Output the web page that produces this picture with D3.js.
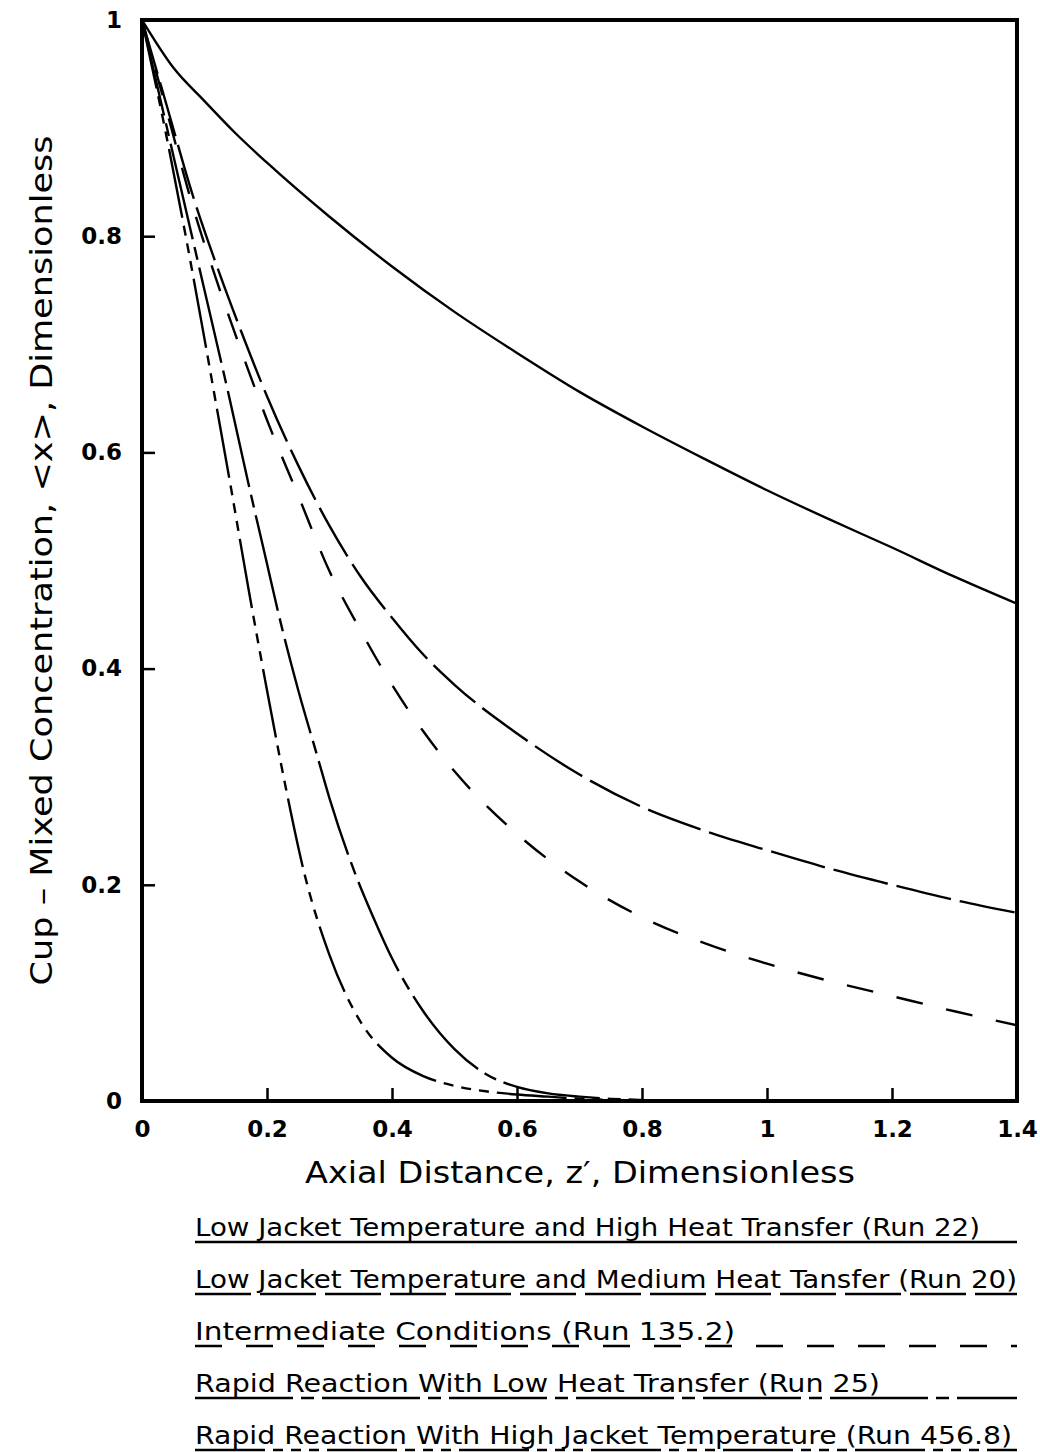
<!DOCTYPE html>
<html>
<head>
<meta charset="utf-8">
<script src="https://cdn.jsdelivr.net/npm/d3@7"></script>
<style>
  html, body { margin: 0; padding: 0; background: #fff; }
  svg { display: block; }
  text { font-family: "DejaVu Sans", "Liberation Sans", sans-serif; fill: #000; }
</style>
</head>
<body>
<svg id="chart" width="1040" height="1452"></svg>
<script>
// Axial distance z' and cup-mixed concentration <x> for each run
const run22Z = [0, 0.05, 0.1, 0.15, 0.2, 0.3, 0.4, 0.5, 0.6, 0.7, 0.8, 0.9, 1.0, 1.1, 1.2, 1.3, 1.4];
const run22X = [1, 0.956, 0.925, 0.895, 0.868, 0.818, 0.772, 0.73, 0.692, 0.656, 0.624, 0.594, 0.565, 0.538, 0.512, 0.485, 0.46];

const run20Z = [0, 0.04, 0.08, 0.12, 0.16, 0.2, 0.25, 0.3, 0.35, 0.4, 0.45, 0.5, 0.6, 0.7, 0.8, 0.9, 1.0, 1.1, 1.2, 1.3, 1.4];
const run20X = [1, 0.92, 0.84, 0.772, 0.71, 0.652, 0.588, 0.532, 0.485, 0.447, 0.413, 0.385, 0.34, 0.302, 0.272, 0.25, 0.232, 0.215, 0.2, 0.186, 0.174];

const run135Z = [0, 0.04, 0.08, 0.12, 0.16, 0.2, 0.25, 0.3, 0.35, 0.4, 0.45, 0.5, 0.6, 0.7, 0.8, 0.9, 1.0, 1.1, 1.2, 1.3, 1.4];
const run135X = [1, 0.915, 0.83, 0.758, 0.692, 0.63, 0.56, 0.49, 0.435, 0.385, 0.342, 0.305, 0.247, 0.203, 0.17, 0.146, 0.127, 0.111, 0.097, 0.083, 0.07];

const run25Z = [0, 0.04, 0.08, 0.1, 0.14, 0.17, 0.2, 0.22, 0.25, 0.28, 0.3, 0.34, 0.37, 0.4, 0.45, 0.5, 0.55, 0.6, 0.65, 0.7, 0.75, 0.8];
const run25X = [1, 0.9, 0.8, 0.75, 0.65, 0.572, 0.497, 0.447, 0.38, 0.32, 0.28, 0.212, 0.17, 0.132, 0.083, 0.048, 0.025, 0.013, 0.007, 0.004, 0.002, 0.001];

const run456Z = [0, 0.04, 0.07, 0.1, 0.12, 0.14, 0.17, 0.2, 0.23, 0.26, 0.3, 0.35, 0.4, 0.45, 0.5, 0.55, 0.6, 0.65, 0.7, 0.75];
const run456X = [1, 0.89, 0.8, 0.705, 0.64, 0.575, 0.475, 0.38, 0.29, 0.21, 0.135, 0.073, 0.04, 0.023, 0.014, 0.009, 0.006, 0.004, 0.002, 0.001];

// Tick values and labels
const xTicks = [0, 0.2, 0.4, 0.6, 0.8, 1.0, 1.2, 1.4];
const xTickLabels = ["0", "0.2", "0.4", "0.6", "0.8", "1", "1.2", "1.4"];
const yTicks = [0, 0.2, 0.4, 0.6, 0.8, 1.0];
const yTickLabels = ["0", "0.2", "0.4", "0.6", "0.8", "1"];

// Legend entries (one per run)
const seriesNames = [
  "Low Jacket Temperature and High Heat Transfer (Run 22)",
  "Low Jacket Temperature and Medium Heat Tansfer (Run 20)",
  "Intermediate Conditions (Run 135.2)",
  "Rapid Reaction With Low Heat Transfer (Run 25)",
  "Rapid Reaction With High Jacket Temperature (Run 456.8)"
];

const xTitle = "Axial Distance, z\u2032, Dimensionless";
const yTitle = "Cup \u2013 Mixed Concentration, <x>, Dimensionless";

// ---- layout ----
const plot = { left: 142, right: 1017, top: 20, bottom: 1101 };
const x = d3.scaleLinear().domain([0, 1.4]).range([plot.left, plot.right]);
const y = d3.scaleLinear().domain([0, 1]).range([plot.bottom, plot.top]);

const series = [
  { z: run22Z, v: run22X, dash: null, textLen: 785, lineEnd: 1017 },
  { z: run20Z, v: run20X, dash: "56,9", textLen: 822, lineEnd: 1017 },
  { z: run135Z, v: run135X, dash: "27,24", textLen: 540, lineEnd: 1017 },
  { z: run25Z, v: run25X, dash: "98,8,13,8", textLen: 685, lineEnd: 1017 },
  { z: run456Z, v: run456X, dash: "70,8,10,8,10,8,10,8", textLen: 817, lineEnd: 1017 }
];

const svg = d3.select("#chart");

const clipId = "plot-clip";
svg.append("clipPath").attr("id", clipId)
  .append("rect")
  .attr("x", plot.left).attr("y", plot.top)
  .attr("width", plot.right - plot.left).attr("height", plot.bottom - plot.top);

// curves
const line = d3.line()
  .x(d => x(d[0]))
  .y(d => y(d[1]))
  .curve(d3.curveMonotoneX);

const curves = svg.append("g").attr("clip-path", `url(#${clipId})`);
series.forEach(s => {
  const pts = s.z.map((z, i) => [z, s.v[i]]);
  curves.append("path")
    .attr("d", line(pts))
    .attr("fill", "none")
    .attr("stroke", "#000")
    .attr("stroke-width", 2.4)
    .attr("stroke-dasharray", s.dash)
    .attr("stroke-linecap", "butt");
});

// axes with inward ticks
const xAxis = d3.axisBottom(x).tickValues(xTicks)
  .tickFormat((d, i) => xTickLabels[i])
  .tickSizeInner(-13).tickSizeOuter(0).tickPadding(22);
const yAxis = d3.axisLeft(y).tickValues(yTicks)
  .tickFormat((d, i) => yTickLabels[i])
  .tickSizeInner(-13).tickSizeOuter(0).tickPadding(22);

const gx = svg.append("g").attr("transform", `translate(0,${plot.bottom})`).call(xAxis);
const gy = svg.append("g").attr("transform", `translate(${plot.left},0)`).call(yAxis);

[gx, gy].forEach(g => {
  g.select(".domain").remove();
  g.selectAll(".tick line").attr("stroke", "#000").attr("stroke-width", 2.5);
  g.selectAll(".tick text")
    .attr("font-family", "DejaVu Sans, sans-serif")
    .attr("font-size", 23)
    .attr("font-weight", "bold")
    .attr("fill", "#000");
});
gx.selectAll(".tick text").attr("dy", "0.71em").attr("y", 20);
gy.selectAll(".tick text").attr("x", -20);

// frame
svg.append("rect")
  .attr("x", plot.left).attr("y", plot.top)
  .attr("width", plot.right - plot.left).attr("height", plot.bottom - plot.top)
  .attr("fill", "none").attr("stroke", "#000").attr("stroke-width", 4);

// axis titles
svg.append("text")
  .attr("x", 580).attr("y", 1183)
  .attr("text-anchor", "middle")
  .attr("font-size", 31)
  .attr("textLength", 550).attr("lengthAdjust", "spacingAndGlyphs")
  .text(xTitle);

svg.append("text")
  .attr("transform", `translate(52,${(plot.top + plot.bottom) / 2}) rotate(-90)`)
  .attr("text-anchor", "middle")
  .attr("font-size", 31)
  .attr("textLength", 850).attr("lengthAdjust", "spacingAndGlyphs")
  .text(yTitle);

// legend: caption text underlined with each run's line style
const legend = svg.append("g");
const legendX = 195;
const legendY0 = 1236;
const legendStep = 52;
series.forEach((s, i) => {
  const by = legendY0 + i * legendStep;
  legend.append("text")
    .attr("x", legendX).attr("y", by)
    .attr("font-size", 24)
    .attr("textLength", s.textLen).attr("lengthAdjust", "spacingAndGlyphs")
    .text(seriesNames[i]);
  legend.append("line")
    .attr("x1", legendX).attr("x2", s.lineEnd)
    .attr("y1", by + 6).attr("y2", by + 6)
    .attr("stroke", "#000").attr("stroke-width", 2.4)
    .attr("stroke-dasharray", s.dash);
});
</script>
</body>
</html>
